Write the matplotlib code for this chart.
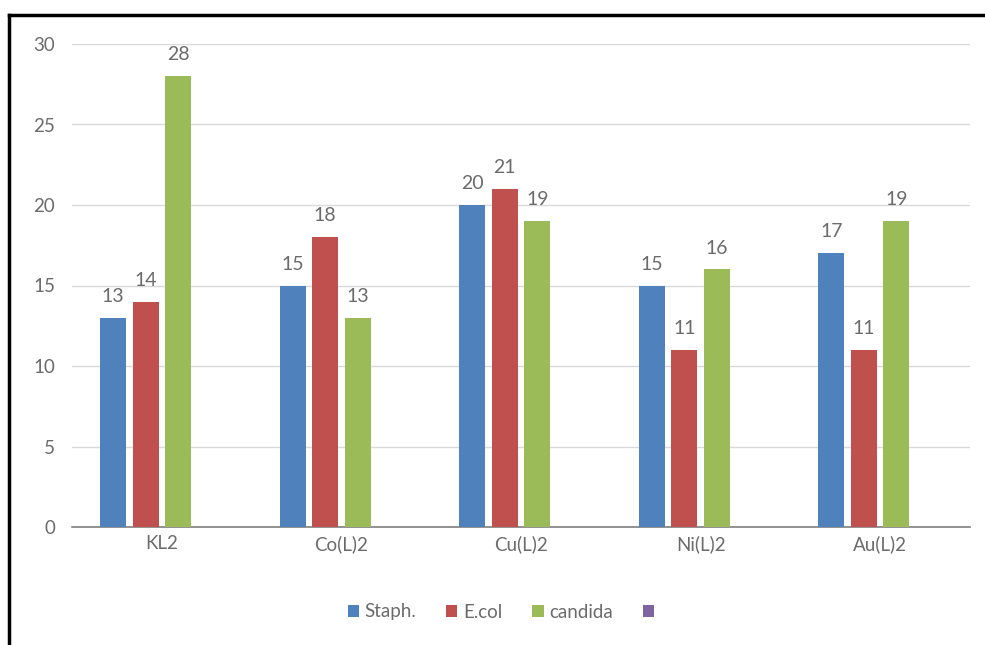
import matplotlib.pyplot as plt
import numpy as np

plt.rcParams['font.family'] = ['Lato', 'DejaVu Sans']

categories = ['KL2', 'Co(L)2', 'Cu(L)2', 'Ni(L)2', 'Au(L)2']
staph = [13, 15, 20, 15, 17]
ecol = [14, 18, 21, 11, 11]
candida = [28, 13, 19, 16, 19]
series = [('Staph.', staph, '#4F81BD'), ('E.col', ecol, '#C0504D'), ('candida', candida, '#9BBB59')]

fig = plt.figure(figsize=(9.85, 6.45), dpi=100)
ax = fig.add_axes([72/985, 1-527/645, 898/985, 483/645])

x = np.arange(len(categories))
w = 0.145
step = 0.181
txtc = '#6b6b6b'
# four slots per group, the fourth (purple) series is empty
for i, (name, vals, col) in enumerate(series):
    pos = x + (i - 1.5) * step
    ax.bar(pos, vals, w, color=col, label=name, zorder=3)
    for p, v in zip(pos, vals):
        ax.text(p, v + 0.8, str(v), ha='center', va='bottom', fontsize=14, color=txtc)
ax.bar([0], [0], 0, color='#8064A2', label=' ')

ax.set_xlim(-0.5, 4.5)
ax.set_ylim(0, 30)
ax.set_yticks(range(0, 31, 5))
ax.set_xticks(x)
ax.set_xticklabels(categories)
ax.grid(axis='y', color='#D9D9D9', lw=1, zorder=0)
for s in ['top', 'right', 'left']:
    ax.spines[s].set_visible(False)
ax.spines['bottom'].set_color('#7F7F7F')
ax.spines['bottom'].set_linewidth(1.2)
ax.tick_params(axis='both', length=0, labelsize=13.5, colors=txtc)
ax.tick_params(axis='y', pad=12)
ax.tick_params(axis='x', pad=6)

fig.legend(loc='center', bbox_to_anchor=(506/985, 1-612/645), ncol=4, frameon=False,
           fontsize=13.5, labelcolor=txtc, handlelength=0.6, handleheight=0.6,
           handletextpad=0.3, columnspacing=1.6)

# frame lines on left and top edge of the image
fig.add_artist(plt.Line2D([9/985, 9/985], [0, 1-15/645], color='black', lw=2.5))
fig.add_artist(plt.Line2D([9/985, 1], [1-15/645, 1-15/645], color='black', lw=2.5))

fig.savefig('out.png', dpi=100)
